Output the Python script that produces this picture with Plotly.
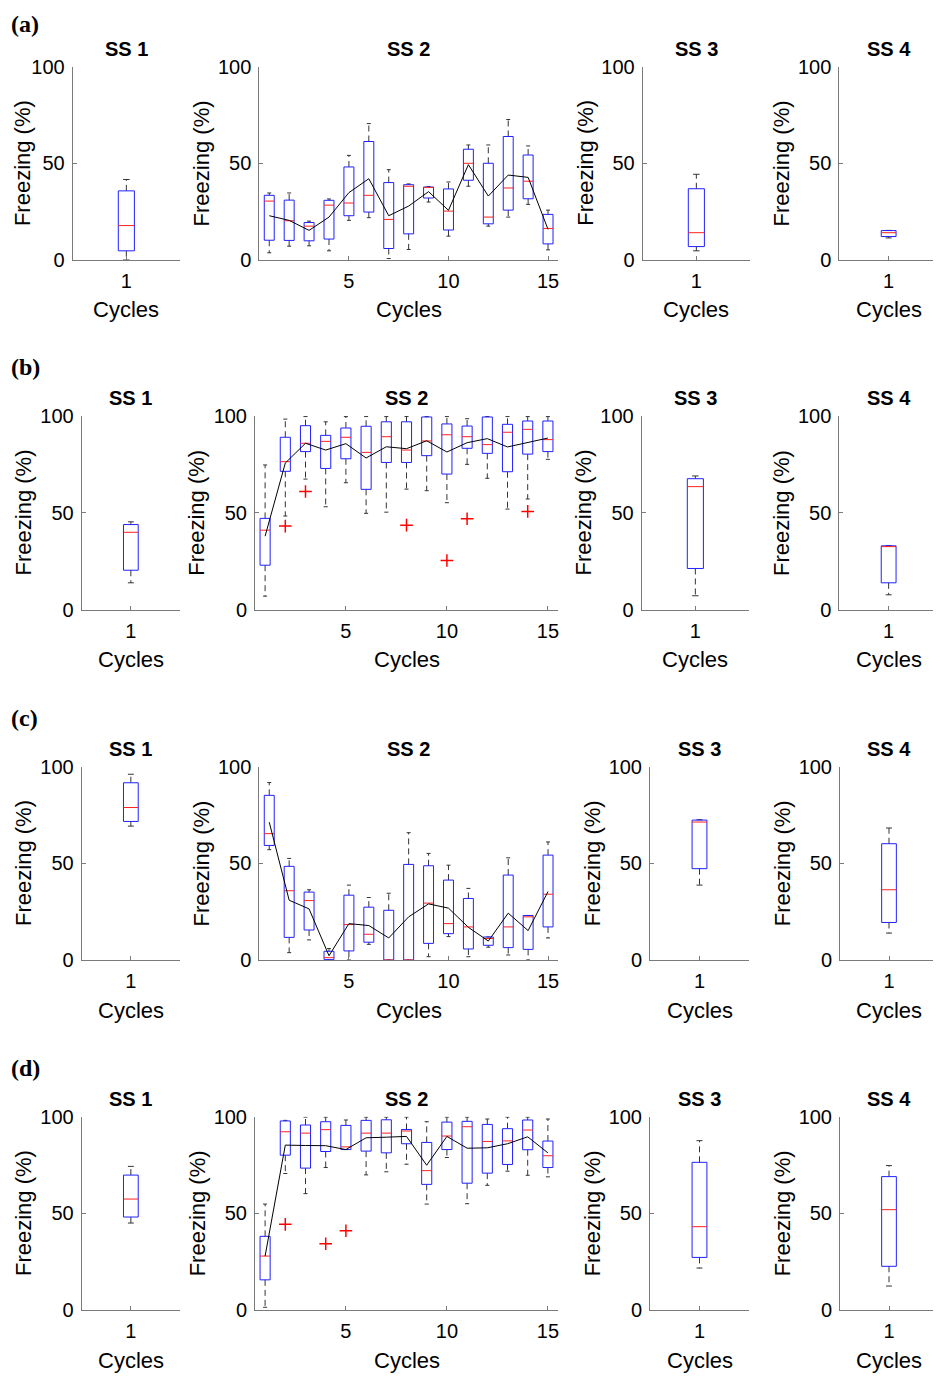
import plotly.graph_objects as go

# the page body adds an 8px margin, so the figure is drawn 8px smaller and shifted
PAGE_W, PAGE_H, BODY = 941, 1377, 8
W, H = PAGE_W - BODY, PAGE_H - BODY

CYCLES = list(range(1, 16))
SINGLE = [1]

# ---- row (a) ----
A_LO = [3.5, 6.9, 7.1, 4.5, 20.3, 21.7, 0.5, 5.2, 29.8, 12.1, 38.0, 17.3, 22.0, 28.6, 5.0]
A_Q1 = [10.0, 9.9, 9.7, 10.6, 22.7, 24.6, 5.7, 13.3, 31.9, 15.3, 41.1, 18.5, 25.6, 31.5, 8.1]
A_MED = [30.3, 20.1, 17.3, 28.2, 29.3, 33.3, 20.8, 38.0, 37.4, 25.1, 49.9, 22.0, 37.1, 40.6, 16.1]
A_Q3 = [33.3, 30.8, 19.2, 30.7, 48.0, 61.2, 39.9, 38.8, 37.6, 36.6, 57.2, 49.9, 63.8, 54.2, 23.4]
A_HI = [34.5, 34.5, 19.9, 31.4, 54.0, 70.5, 46.6, 39.2, 37.8, 40.2, 59.4, 59.4, 72.6, 58.9, 25.6]
A_MEAN = [22.7, 20.3, 15.1, 22.0, 34.7, 41.9, 22.7, 27.7, 35.2, 25.5, 49.2, 32.9, 43.8, 42.6, 15.6]
A_OUT_X = []
A_OUT_Y = []
# single-session panels: [low whisker, q1, median, q3, high whisker]
A_SS1 = [0.0, 4.5, 17.6, 35.6, 41.5]
A_SS3 = [4.5, 6.7, 13.9, 36.7, 44.2]
A_SS4 = [11.2, 11.9, 13.9, 15.0, 15.1]

# ---- row (b) ----
B_LO = [6.9, 48.3, 67.4, 53.1, 65.5, 49.7, 50.3, 62.2, 61.4, 55.2, 75.0, 67.8, 51.9, 57.1, 77.6]
B_Q1 = [22.9, 71.4, 81.6, 72.9, 77.9, 62.1, 76.0, 76.0, 79.5, 70.0, 83.3, 80.7, 71.2, 80.3, 81.6]
B_MED = [41.0, 76.4, 85.9, 86.9, 89.0, 81.2, 89.3, 82.4, 87.1, 90.3, 89.3, 85.2, 91.6, 93.1, 87.8]
B_Q3 = [47.1, 89.0, 95.0, 90.0, 93.8, 94.7, 97.0, 97.0, 99.5, 95.9, 94.8, 99.5, 95.7, 97.4, 97.4]
B_HI = [74.7, 98.4, 99.7, 97.0, 99.7, 99.7, 99.7, 99.7, 99.7, 99.7, 98.6, 99.7, 99.7, 99.7, 99.7]
B_MEAN = [37.9, 75.7, 85.9, 82.4, 85.7, 78.3, 84.1, 83.1, 87.2, 81.4, 86.2, 88.3, 84.0, 86.2, 88.6]
B_OUT_X = [2, 3, 8, 10, 11, 14]
B_OUT_Y = [43.1, 61.0, 43.6, 25.3, 46.9, 50.7]
B_SS1 = [13.8, 20.3, 39.9, 43.9, 45.3]
B_SS3 = [7.1, 21.2, 63.5, 67.6, 69.0]
B_SS4 = [7.6, 13.8, 32.5, 32.9, 33.0]

# ---- row (c) ----
C_LO = [57.0, 3.8, 10.4, 0.0, 0.0, 8.1, 0.0, 0.0, 1.7, 12.1, 1.7, 6.6, 2.6, 0.0, 11.4]
C_Q1 = [59.2, 11.7, 15.5, 0.2, 4.7, 9.2, 0.0, 0.0, 8.6, 13.6, 5.7, 7.6, 6.4, 5.5, 17.1]
C_MED = [65.3, 35.8, 30.7, 1.2, 18.3, 13.3, 0.0, 0.0, 29.4, 18.8, 17.1, 11.1, 17.1, 22.3, 34.0]
C_Q3 = [85.1, 48.4, 35.1, 4.5, 33.5, 27.3, 25.7, 49.4, 48.7, 41.3, 31.8, 11.9, 43.9, 23.0, 54.2]
C_HI = [91.7, 52.5, 36.3, 5.9, 38.7, 32.3, 34.5, 65.8, 55.1, 49.0, 37.0, 11.9, 52.8, 23.0, 61.0]
C_MEAN = [71.2, 30.9, 26.4, 2.2, 18.8, 17.8, 11.4, 22.3, 29.0, 26.8, 16.9, 9.8, 24.2, 15.2, 35.4]
C_OUT_X = []
C_OUT_Y = []
C_SS1 = [69.2, 71.6, 78.8, 91.6, 96.0]
C_SS3 = [38.7, 47.2, 71.3, 72.3, 72.5]
C_SS4 = [13.9, 19.4, 36.3, 60.1, 68.2]

# ---- row (d) ----
D_LO = [1.4, 70.6, 60.2, 73.7, 83.0, 69.9, 71.5, 75.4, 54.8, 78.9, 55.0, 64.5, 71.8, 69.7, 68.9]
D_Q1 = [15.6, 80.1, 73.4, 82.0, 83.0, 82.2, 81.3, 86.0, 65.0, 83.0, 65.6, 70.8, 75.3, 82.9, 73.7]
D_MED = [27.9, 92.2, 91.5, 93.3, 84.4, 91.5, 91.5, 92.6, 72.1, 90.0, 94.8, 87.2, 87.5, 93.1, 79.8]
D_Q3 = [38.1, 97.8, 95.7, 97.4, 95.5, 98.1, 98.4, 93.4, 86.7, 97.2, 97.6, 96.0, 93.8, 98.3, 87.4]
D_HI = [54.8, 98.1, 99.8, 99.8, 98.3, 99.8, 99.8, 99.8, 97.4, 99.8, 99.8, 98.8, 99.8, 99.8, 98.8]
D_MEAN = [27.9, 85.3, 85.1, 85.0, 83.0, 89.1, 89.4, 89.8, 74.9, 89.8, 83.7, 83.9, 86.0, 89.6, 81.3]
D_OUT_X = [2, 4, 5]
D_OUT_Y = [44.3, 34.3, 41.0]
D_SS1 = [45.0, 48.1, 57.4, 69.8, 74.3]
D_SS3 = [21.7, 27.2, 43.1, 76.4, 87.6]
D_SS4 = [12.4, 22.6, 51.9, 69.0, 74.7]

ROW_LABELS = ["(a)", "(b)", "(c)", "(d)"]
PANEL_TITLES = ["SS 1", "SS 2", "SS 3", "SS 4"]
Y_TICKS = [0, 50, 100]
SS2_TICKS = [5, 10, 15]

rows = [
    (A_SS1, (A_LO, A_Q1, A_MED, A_Q3, A_HI), A_MEAN, A_OUT_X, A_OUT_Y, A_SS3, A_SS4),
    (B_SS1, (B_LO, B_Q1, B_MED, B_Q3, B_HI), B_MEAN, B_OUT_X, B_OUT_Y, B_SS3, B_SS4),
    (C_SS1, (C_LO, C_Q1, C_MED, C_Q3, C_HI), C_MEAN, C_OUT_X, C_OUT_Y, C_SS3, C_SS4),
    (D_SS1, (D_LO, D_Q1, D_MED, D_Q3, D_HI), D_MEAN, D_OUT_X, D_OUT_Y, D_SS3, D_SS4),
]

# page-pixel placement of the axes: (top, bottom) per row, (left, right) per panel
ROW_Y = [(66.7, 259.5), (416, 609.5), (766.5, 960), (1116.7, 1310)]
COL_X = [
    [(72.7, 180), (259.3, 558), (642.7, 750), (839.3, 938)],
    [(81.7, 180), (255, 558), (641.7, 749), (839.3, 938)],
    [(81.7, 180), (259.3, 558), (650, 749), (840, 938)],
    [(81.7, 180), (255, 558), (650, 749), (840, 938)],
]

FONT = "Liberation Sans, Arial, Helvetica, sans-serif"
AXIS_GRAY = "#7a7a7a"
BOX_BLUE = "#2020ff"
MED_RED = "#ff2020"


def fx(p):
    return (p - BODY) / W


def fy(p):
    return 1 - (p - BODY) / H


def box_traces(xs, lo, q1, med, q3, hi, w, cap, xa, ya):
    bx, by, mx, my, wx, wy, cx, cy = [], [], [], [], [], [], [], []
    for x, a, b, m, c, d in zip(xs, lo, q1, med, q3, hi):
        bx += [x - w / 2, x + w / 2, x + w / 2, x - w / 2, x - w / 2, None]
        by += [b, b, c, c, b, None]
        mx += [x - w / 2, x + w / 2, None]
        my += [m, m, None]
        wx += [x, x, None, x, x, None]
        wy += [c, d, None, b, a, None]
        cx += [x - cap / 2, x + cap / 2, None, x - cap / 2, x + cap / 2, None]
        cy += [d, d, None, a, a, None]
    common = dict(mode="lines", showlegend=False, hoverinfo="skip", xaxis=xa, yaxis=ya)
    return [
        go.Scatter(x=wx, y=wy, line=dict(color="#333333", width=1, dash="6px,4px"), **common),
        go.Scatter(x=cx, y=cy, line=dict(color="#333333", width=1), **common),
        go.Scatter(x=bx, y=by, line=dict(color=BOX_BLUE, width=1), **common),
        go.Scatter(x=mx, y=my, line=dict(color=MED_RED, width=1), **common),
    ]


fig = go.Figure()
layout = dict(
    width=W, height=H, margin=dict(l=0, r=0, t=0, b=0, autoexpand=False),
    plot_bgcolor="white", paper_bgcolor="white", showlegend=False,
)
annotations = []

k = 0
for r, (ss1, stats, mean, ox, oy, ss3, ss4) in enumerate(rows):
    top, bot = ROW_Y[r]
    ydom = [fy(bot), fy(top)]
    # keep the top-left label clear of the clipped page edge
    label_y = max(top - 49, 24)
    annotations.append(dict(
        text="<b>%s</b>" % ROW_LABELS[r], x=fx(9), y=fy(label_y),
        xref="paper", yref="paper", xanchor="left", yanchor="middle", showarrow=False,
        font=dict(family="Liberation Serif, Times New Roman, serif", size=24, color="black"),
    ))
    for c in range(4):
        k += 1
        sfx = "" if k == 1 else str(k)
        xa, ya = "x" + sfx, "y" + sfx
        left, right = COL_X[r][c]
        xdom = [fx(left), fx(right)]
        if c == 1:
            xs = CYCLES
            traces = box_traces(xs, *stats, 0.5, 0.2, xa, ya)
            xrange = [0.5, 15.5]
            xticks = SS2_TICKS
        else:
            s = [ss1, None, ss3, ss4][c]
            xs = SINGLE
            traces = box_traces(xs, [s[0]], [s[1]], [s[2]], [s[3]], [s[4]], 0.15, 0.06, xa, ya)
            xrange = [0.5, 1.5]
            xticks = SINGLE
        for t in traces:
            fig.add_trace(t)
        if c == 1:
            fig.add_trace(go.Scatter(x=CYCLES, y=mean, mode="lines", showlegend=False,
                                     line=dict(color="black", width=1), xaxis=xa, yaxis=ya))
            if ox:
                fig.add_trace(go.Scatter(x=ox, y=oy, mode="markers", showlegend=False,
                                         marker=dict(symbol="cross-thin", size=9,
                                                     line=dict(color="red", width=1.5)),
                                         xaxis=xa, yaxis=ya))
        axis_common = dict(
            showline=True, linecolor=AXIS_GRAY, linewidth=1, showgrid=False, zeroline=False,
            ticks="inside", ticklen=4, tickcolor=AXIS_GRAY, tickwidth=1, automargin=False,
            tickfont=dict(family=FONT, size=20, color="black"), fixedrange=True,
        )
        layout["xaxis" + sfx] = dict(
            domain=xdom, range=xrange, tickvals=xticks, anchor=ya,
            ticklabelstandoff=3, **axis_common,
        )
        layout["yaxis" + sfx] = dict(
            domain=ydom, range=[0, 100], tickvals=Y_TICKS, anchor=xa,
            ticklabelstandoff=3, **axis_common,
        )
        cx = (left + right) / 2
        annotations.append(dict(
            text="<b>%s</b>" % PANEL_TITLES[c], x=fx(cx), y=fy(top - 18),
            xref="paper", yref="paper", xanchor="center", yanchor="middle", showarrow=False,
            font=dict(family=FONT, size=20, color="black"),
        ))
        annotations.append(dict(
            text="Cycles", x=fx(cx), y=fy(bot + 50),
            xref="paper", yref="paper", xanchor="center", yanchor="middle", showarrow=False,
            font=dict(family=FONT, size=22, color="black"),
        ))
        # keep the left-most label inside the drawable area
        ylab_x = max(left - 58, 22)
        annotations.append(dict(
            text="Freezing (%)", x=fx(ylab_x), y=fy((top + bot) / 2),
            xref="paper", yref="paper", xanchor="center", yanchor="middle", showarrow=False,
            textangle=-90, font=dict(family=FONT, size=22, color="black"),
        ))

layout["annotations"] = annotations
fig.update_layout(**layout)
fig.write_html("out.html")
